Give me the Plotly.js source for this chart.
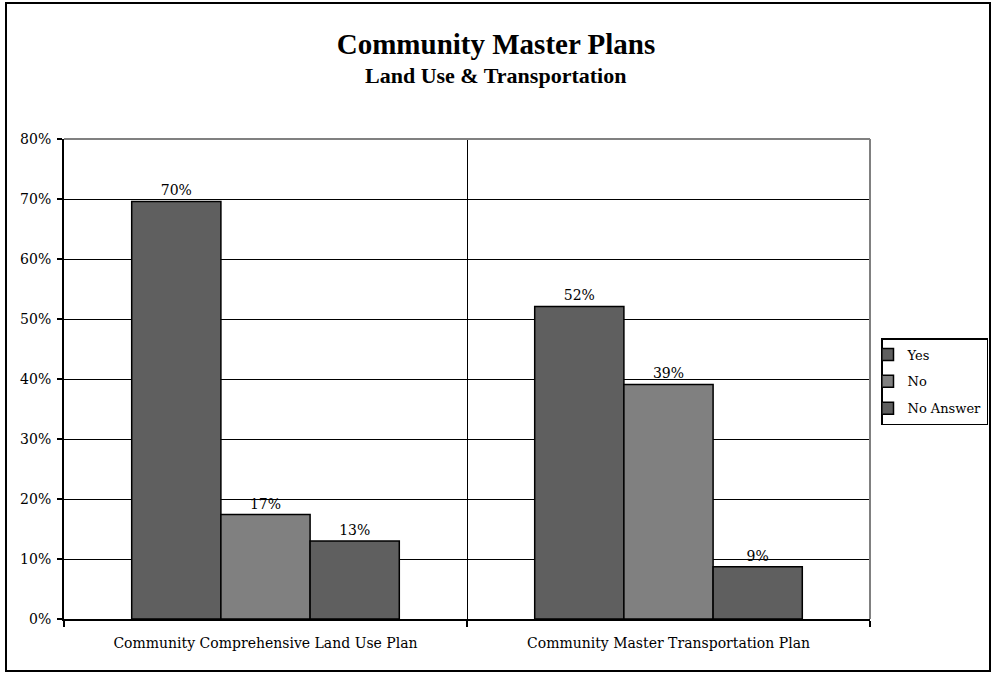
<!DOCTYPE html>
<html>
<head>
<meta charset="utf-8">
<script src="https://cdn.plot.ly/plotly-3.0.1.min.js"></script>
<style>
  html, body { margin: 0; padding: 0; background: #fff; }
  #chart { width: 992px; height: 673px; }
</style>
</head>
<body>
<div id="chart"></div>
<script>
// ---- data ----
const categories = ['Community Comprehensive Land Use Plan', 'Community Master Transportation Plan'];
const seriesNames = ['Yes', 'No', 'No Answer'];
const yesValues = [69.6, 52.1];
const noValues = [17.4, 39.1];
const noAnswerValues = [13.0, 8.7];
const yTickValues = [0, 10, 20, 30, 40, 50, 60, 70, 80];
const yTickLabels = ['0%', '10%', '20%', '30%', '40%', '50%', '60%', '70%', '80%'];
const chartTitle = 'Community Master Plans';
const chartSubtitle = 'Land Use & Transportation';

// ---- styles ----
const seriesColors = ['#5f5f5f', '#808080', '#5f5f5f'];
const serif = 'DejaVu Serif, serif';
const titleFont = 'Liberation Serif, Times New Roman, serif';

const W = 992, H = 673;
const M = { l: 64, r: 122, t: 139, b: 54, autoexpand: false };
const pw = W - M.l - M.r, ph = H - M.t - M.b;
const px = v => (v - M.l) / pw;        // pixel x -> paper x
const py = v => (H - M.b - v) / ph;    // pixel y -> paper y

const seriesValues = [yesValues, noValues, noAnswerValues];
const traces = seriesNames.map((name, i) => ({
  type: 'bar',
  name: name,
  x: categories,
  y: seriesValues[i],
  legendgroup: name,
  marker: { color: seriesColors[i], line: { color: '#000', width: 1.5 } },
  texttemplate: '%{y:.0f}%',
  textposition: 'outside',
  cliponaxis: false,
  textfont: { family: serif, size: 14, color: '#000' },
  hoverinfo: 'skip'
}));

const layout = {
  width: W, height: H,
  margin: M,
  paper_bgcolor: '#fff',
  plot_bgcolor: '#fff',
  barmode: 'group',
  bargap: 0.336,
  bargroupgap: 0,
  showlegend: true,
  title: {
    text: '<b>' + chartTitle + '</b>',
    font: { family: titleFont, size: 29, color: '#000' },
    x: 0.5, xanchor: 'center', xref: 'container',
    y: 1 - 44 / H, yanchor: 'middle', yref: 'container'
  },
  annotations: [{
    text: '<b>' + chartSubtitle.replace('&', '&amp;') + '</b>',
    xref: 'paper', yref: 'paper',
    x: px(496), y: py(76), xanchor: 'center', yanchor: 'middle',
    showarrow: false,
    font: { family: titleFont, size: 22, color: '#000' }
  }],
  legend: {
    x: px(881), y: py(338), xanchor: 'left', yanchor: 'top',
    bgcolor: '#fff', bordercolor: '#000', borderwidth: 1.5,
    font: { family: serif, size: 13, color: '#000' },
    tracegroupgap: 7,
    itemwidth: 30,
    indentation: -15
  },
  xaxis: {
    type: 'category',
    tickson: 'boundaries',
    showgrid: true, gridcolor: '#000', gridwidth: 1,
    showline: true, linecolor: '#000', linewidth: 2,
    ticks: 'outside', ticklen: 6, tickcolor: '#000', tickwidth: 2,
    ticklabelstandoff: 10,
    tickfont: { family: serif, size: 14, color: '#000' },
    zeroline: false
  },
  yaxis: {
    range: [0, 80],
    tickvals: yTickValues,
    ticktext: yTickLabels,
    showgrid: true, gridcolor: '#000', gridwidth: 1,
    showline: true, linecolor: '#000', linewidth: 2,
    ticks: 'outside', ticklen: 5, tickcolor: '#000', tickwidth: 2,
    ticklabelstandoff: 3,
    tickfont: { family: serif, size: 14, color: '#000' },
    zeroline: false
  },
  shapes: [
    // plot area border (top & right, gray)
    { type: 'line', xref: 'paper', yref: 'paper', x0: 0, x1: 1, y0: 1, y1: 1,
      line: { color: '#808080', width: 2 }, layer: 'above' },
    { type: 'line', xref: 'paper', yref: 'paper', x0: 1, x1: 1, y0: 0, y1: 1,
      line: { color: '#808080', width: 2 }, layer: 'above' },
    // outer chart frame
    { type: 'rect', xref: 'paper', yref: 'paper',
      x0: px(6), x1: px(990), y0: py(671), y1: py(3),
      line: { color: '#000', width: 2 }, fillcolor: 'rgba(0,0,0,0)', layer: 'above' }
  ]
};

Plotly.newPlot('chart', traces, layout, { displayModeBar: false, staticPlot: true });
</script>
</body>
</html>
